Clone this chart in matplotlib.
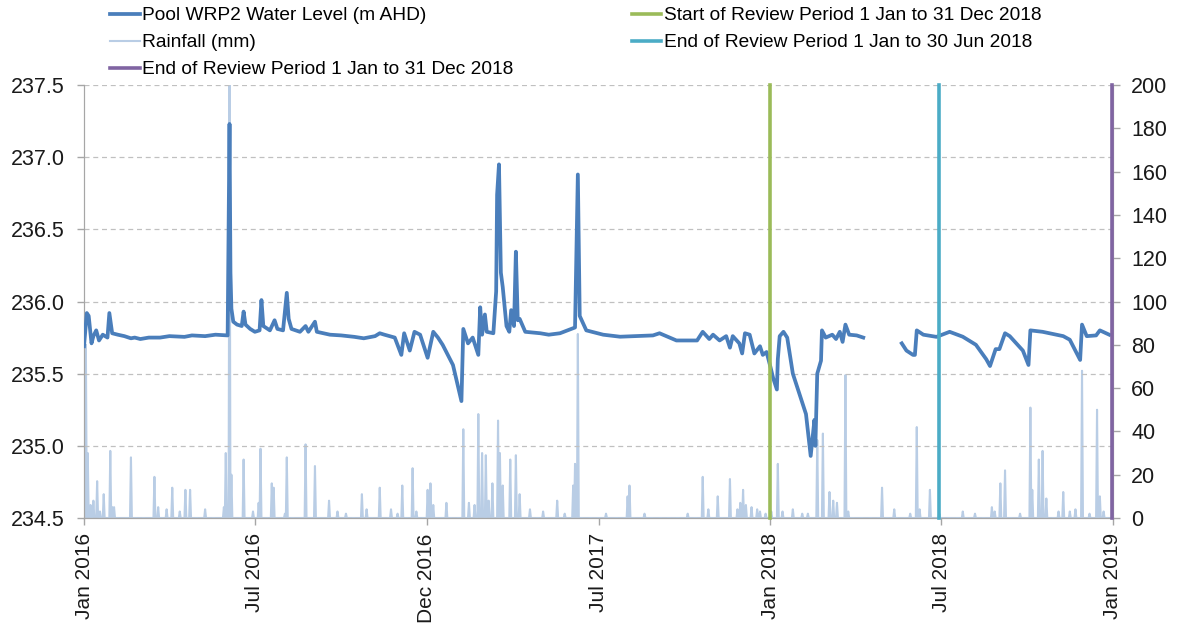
import numpy as np
import pandas as pd
import matplotlib
matplotlib.use("Agg")
import matplotlib.pyplot as plt

plt.rcParams["font.family"] = ["Liberation Sans", "DejaVu Sans"]

# ---------------- Datos ----------------
# Nivel del agua (m AHD), fechas y valores
nivel_fechas = [
    "2016-01-01", "2016-01-04", "2016-01-06", "2016-01-09", "2016-01-11", "2016-01-14",
    "2016-01-17", "2016-01-21", "2016-01-26", "2016-01-28", "2016-01-31", "2016-02-06",
    "2016-02-13", "2016-02-20", "2016-02-24", "2016-03-01", "2016-03-10", "2016-03-22",
    "2016-04-01", "2016-04-17", "2016-04-25", "2016-05-09", "2016-05-20", "2016-06-02",
    "2016-06-04", "2016-06-05", "2016-06-06", "2016-06-08", "2016-06-12", "2016-06-17",
    "2016-06-19", "2016-06-21", "2016-06-26", "2016-07-01", "2016-07-06", "2016-07-08",
    "2016-07-10", "2016-07-17", "2016-07-22", "2016-07-25", "2016-07-31", "2016-08-04",
    "2016-08-06", "2016-08-09", "2016-08-18", "2016-08-24", "2016-08-27", "2016-09-03",
    "2016-09-05", "2016-09-19", "2016-10-01", "2016-10-15", "2016-10-25", "2016-11-06",
    "2016-11-11", "2016-11-16", "2016-11-27", "2016-12-04", "2016-12-07", "2016-12-13",
    "2016-12-18", "2016-12-24", "2017-01-01", "2017-01-07", "2017-01-12", "2017-01-17",
    "2017-01-28", "2017-02-06", "2017-02-08", "2017-02-13", "2017-02-18", "2017-02-24",
    "2017-02-26", "2017-02-28", "2017-03-03", "2017-03-05", "2017-03-12", "2017-03-15",
    "2017-03-16", "2017-03-18", "2017-03-20", "2017-03-22", "2017-03-26", "2017-03-29",
    "2017-03-31", "2017-04-03", "2017-04-05", "2017-04-07", "2017-04-09", "2017-04-15",
    "2017-05-01", "2017-05-10", "2017-05-22", "2017-06-07", "2017-06-10", "2017-06-12",
    "2017-06-19", "2017-07-07", "2017-07-25", "2017-08-10", "2017-08-29", "2017-09-05",
    "2017-09-23", "2017-10-15", "2017-10-21", "2017-10-28", "2017-11-01", "2017-11-08",
    "2017-11-15", "2017-11-19", "2017-11-22", "2017-11-29", "2017-12-02", "2017-12-05",
    "2017-12-10", "2017-12-15", "2017-12-21", "2017-12-24", "2017-12-28", "2018-01-01",
    "2018-01-04", "2018-01-08", "2018-01-09", "2018-01-11", "2018-01-15", "2018-01-19",
    "2018-01-25", "2018-02-01", "2018-02-08", "2018-02-13", "2018-02-17", "2018-02-18",
    "2018-02-20", "2018-02-24", "2018-02-25", "2018-03-01", "2018-03-08", "2018-03-12",
    "2018-03-16", "2018-03-19", "2018-03-22", "2018-03-26", "2018-04-03", "2018-04-10",
    "2018-04-11", "2018-05-21", "2018-05-26", "2018-06-02", "2018-06-04", "2018-06-06",
    "2018-06-13", "2018-06-27", "2018-07-11", "2018-07-25", "2018-08-08", "2018-08-19",
    "2018-08-23", "2018-08-29", "2018-09-02", "2018-09-08", "2018-09-13", "2018-09-27",
    "2018-10-03", "2018-10-05", "2018-10-18", "2018-10-29", "2018-11-09", "2018-11-16",
    "2018-11-27", "2018-11-29", "2018-12-04", "2018-12-14", "2018-12-18", "2018-12-28",
]
nivel_valores = [
    235.69, 235.92, 235.90, 235.71, 235.76, 235.80,
    235.73, 235.77, 235.75, 235.92, 235.78, 235.77,
    235.76, 235.745, 235.75, 235.74, 235.75, 235.75,
    235.76, 235.755, 235.765, 235.76, 235.77, 235.765,
    237.23, 236.20, 235.95, 235.86, 235.84, 235.83,
    235.93, 235.84, 235.81, 235.79, 235.80, 236.01,
    235.83, 235.80, 235.87, 235.81, 235.80, 236.06,
    235.88, 235.81, 235.79, 235.83, 235.79, 235.86,
    235.79, 235.77, 235.765, 235.755, 235.745, 235.76,
    235.78, 235.77, 235.75, 235.63, 235.78, 235.66,
    235.79, 235.77, 235.61, 235.79, 235.75, 235.70,
    235.56, 235.31, 235.81, 235.71, 235.75, 235.63,
    235.96, 235.77, 235.91, 235.79, 235.78, 236.07,
    236.74, 236.95, 236.20, 236.10, 235.83, 235.79,
    235.94, 235.83, 236.345, 235.87, 235.88, 235.79,
    235.78, 235.77, 235.78, 235.82, 236.88, 235.90,
    235.80, 235.77, 235.756, 235.76, 235.765, 235.78,
    235.73, 235.73, 235.79, 235.74, 235.77, 235.73,
    235.76, 235.68, 235.76, 235.71, 235.64, 235.78,
    235.77, 235.64, 235.69, 235.63, 235.65, 235.55,
    235.47, 235.39, 235.60, 235.76, 235.79, 235.75,
    235.50, 235.36, 235.22, 234.93, 235.18, 235.00,
    235.50, 235.59, 235.80, 235.75, 235.77, 235.74,
    235.79, 235.72, 235.84, 235.77, 235.765, 235.75,
    np.nan, 235.71, 235.66, 235.63, 235.63, 235.80,
    235.77, 235.755, 235.79, 235.756, 235.70, 235.60,
    235.553, 235.67, 235.67, 235.78, 235.76, 235.66,
    235.56, 235.80, 235.79, 235.775, 235.76, 235.735,
    235.595, 235.84, 235.76, 235.765, 235.80, 235.77,
]

# Lluvia diaria (mm): solo los dias con lluvia
lluvia_fechas = [
    "2016-01-03", "2016-01-05", "2016-01-08", "2016-01-11", "2016-01-15", "2016-01-18",
    "2016-01-22", "2016-01-29", "2016-01-31", "2016-02-02", "2016-02-20", "2016-03-16",
    "2016-03-20", "2016-03-29", "2016-04-04", "2016-04-12", "2016-04-18", "2016-04-23",
    "2016-05-09", "2016-05-29", "2016-05-31", "2016-06-04", "2016-06-06", "2016-06-19",
    "2016-06-29", "2016-07-05", "2016-07-07", "2016-07-19", "2016-07-21", "2016-08-02",
    "2016-08-04", "2016-08-24", "2016-09-03", "2016-09-18", "2016-09-27", "2016-10-06",
    "2016-10-23", "2016-10-28", "2016-11-11", "2016-11-23", "2016-11-30", "2016-12-05",
    "2016-12-16", "2016-12-20", "2017-01-01", "2017-01-04", "2017-01-07", "2017-01-21",
    "2017-02-08", "2017-02-14", "2017-02-20", "2017-02-24", "2017-02-28", "2017-03-04",
    "2017-03-07", "2017-03-11", "2017-03-17", "2017-03-19", "2017-03-22", "2017-03-30",
    "2017-04-05", "2017-04-09", "2017-04-20", "2017-05-04", "2017-05-19", "2017-05-27",
    "2017-06-05", "2017-06-07", "2017-06-10", "2017-07-10", "2017-08-02", "2017-08-04",
    "2017-08-20", "2017-10-05", "2017-10-21", "2017-10-27", "2017-11-06", "2017-11-19",
    "2017-11-27", "2017-11-30", "2017-12-03", "2017-12-06", "2017-12-12", "2017-12-18",
    "2017-12-21", "2017-12-27", "2018-01-02", "2018-01-09", "2018-01-14", "2018-01-25",
    "2018-02-04", "2018-02-10", "2018-02-20", "2018-02-26", "2018-03-05", "2018-03-09",
    "2018-03-13", "2018-03-22", "2018-03-25", "2018-04-30", "2018-05-13", "2018-05-30",
    "2018-06-06", "2018-06-09", "2018-06-20", "2018-06-30", "2018-07-25", "2018-08-07",
    "2018-08-25", "2018-08-28", "2018-09-03", "2018-09-08", "2018-09-24", "2018-10-05",
    "2018-10-07", "2018-10-14", "2018-10-18", "2018-10-22", "2018-11-04", "2018-11-09",
    "2018-11-16", "2018-11-22", "2018-11-29", "2018-12-07", "2018-12-15", "2018-12-18",
    "2018-12-22",
]
lluvia_mm = [
    80, 30, 6, 8, 17, 3,
    11, 31, 5, 5, 28, 19,
    5, 4, 14, 3, 13, 13,
    4, 5, 30, 200, 20, 27,
    3, 7, 32, 16, 14, 2,
    28, 34, 24, 8, 3, 2,
    11, 4, 14, 4, 2, 15,
    23, 3, 13, 16, 6, 7,
    41, 7, 6, 48, 30, 29,
    8, 16, 45, 30, 15, 27,
    29, 11, 4, 3, 8, 2,
    15, 25, 85, 2, 10, 15,
    2, 2, 19, 4, 10, 18,
    4, 7, 13, 6, 5, 4,
    3, 2, 3, 25, 3, 4,
    2, 2, 36, 39, 12, 8,
    7, 66, 3, 14, 4, 2,
    42, 4, 13, 2, 3, 2,
    5, 3, 16, 22, 2, 51,
    13, 27, 31, 9, 3, 12,
    3, 4, 68, 2, 50, 10,
    3,
]

# Fechas de los periodos de revision
revision_fechas = ["2018-01-01", "2018-06-30", "2018-12-31"]
revision_etiquetas = [
    "Start of Review Period 1 Jan to 31 Dec 2018",
    "End of Review Period 1 Jan to 30 Jun 2018",
    "End of Review Period 1 Jan to 31 Dec 2018",
]

tick_fechas = ["2016-01-01", "2016-07-01", "2016-12-31", "2017-07-02",
               "2018-01-01", "2018-07-02", "2019-01-01"]
tick_etiquetas = ["Jan 2016", "Jul 2016", "Dec 2016", "Jul 2017",
                  "Jan 2018", "Jul 2018", "Jan 2019"]

# ---------------- Series ----------------
nivel = pd.Series(nivel_valores, index=pd.to_datetime(nivel_fechas))
dias = pd.date_range("2016-01-01", "2018-12-31", freq="D")
lluvia = pd.Series(0.0, index=dias)
lluvia[pd.to_datetime(lluvia_fechas)] = lluvia_mm

# ---------------- Figura ----------------
fig = plt.figure(figsize=(11.8, 6.28), dpi=100)
ax = fig.add_axes([84 / 1180, 1 - 518 / 628, (1113 - 84) / 1180, (518 - 85) / 628])
ax2 = ax.twinx()

gris = "#a6a6a6"

l_lluvia, = ax2.plot(lluvia.index, lluvia.values, color="#b9cde5", lw=1.5, zorder=1)
l_nivel, = ax.plot(nivel.index, nivel.values, color="#4a7ebb", lw=2.7, zorder=3)

colores_rev = ["#9bbb59", "#4bacc6", "#8064a2"]
lineas_rev = []
for f, c in zip(revision_fechas, colores_rev):
    l = ax.axvline(pd.Timestamp(f), color=c, lw=2.6, zorder=4, clip_on=False)
    lineas_rev.append(l)

ax.set_zorder(ax2.get_zorder() + 1)
ax.patch.set_visible(False)

ax.set_ylim(234.5, 237.5)
ax.set_yticks(np.arange(234.5, 237.51, 0.5))
ax.set_yticklabels([f"{v:.1f}" for v in np.arange(234.5, 237.51, 0.5)])
ax2.set_ylim(0, 200)
ax2.set_yticks(range(0, 201, 20))

ax.set_xlim(pd.Timestamp("2016-01-01"), pd.Timestamp("2019-01-01"))
ax.set_xticks(pd.to_datetime(tick_fechas))
ax.set_xticklabels(tick_etiquetas, rotation=90)

ax.yaxis.grid(True, color="#c0c0c0", linestyle=(0, (4, 3)), lw=0.9)
ax.set_axisbelow(True)

for a in (ax, ax2):
    a.spines["top"].set_visible(False)
    for s in ("left", "right", "bottom"):
        a.spines[s].set_color(gris)
    a.tick_params(colors=gris, labelcolor="#1a1a1a", labelsize=15.5, length=5, width=1)
ax.tick_params(axis="y", pad=9)
ax2.tick_params(axis="y", pad=8)
ax.tick_params(axis="x", labelsize=15, pad=6)

handles = [l_nivel, l_lluvia, lineas_rev[2], lineas_rev[0], lineas_rev[1]]
labels = ["Pool WRP2 Water Level (m AHD)", "Rainfall (mm)", revision_etiquetas[2],
          revision_etiquetas[0], revision_etiquetas[1]]
fig.legend(handles, labels, ncol=2, loc="upper left", bbox_to_anchor=(108 / 1180, 1.0 - 5 / 628),
           frameon=False, fontsize=13.8, handlelength=1.55, handletextpad=0.15,
           columnspacing=6.15, labelspacing=0.5, borderpad=0.1, borderaxespad=0)

fig.savefig("out.png", dpi=100)
